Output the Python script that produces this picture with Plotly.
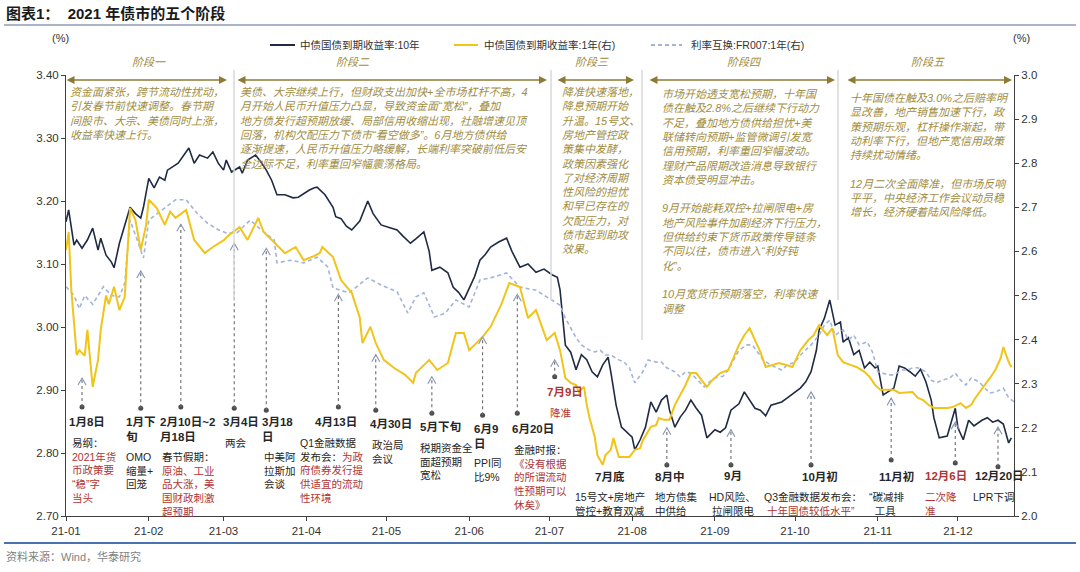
import plotly.graph_objects as go

# ---------------- data ----------------
dates_10y = ["01-01","01-02","01-04","01-05","01-07","01-09","01-11","01-13","01-14","01-16","01-18","01-19","01-21","01-23","01-25","01-27","01-29","01-30",
 "02-01","02-03","02-05","02-07","02-08","02-12","02-16","02-18","02-20","02-23","02-25","02-27",
 "03-01","03-02","03-04","03-07","03-08","03-10","03-13","03-15","03-17","03-19","03-21","03-24","03-27","03-29",
 "04-02","04-04","04-05","04-08","04-11","04-12","04-14","04-16","04-18","04-21","04-24","04-26","04-29",
 "05-02","05-05","05-07","05-10","05-12","05-15","05-17","05-18","05-21","05-24","05-26","05-28","05-30",
 "06-01","06-03","06-05","06-07","06-09","06-12","06-15","06-17","06-20","06-23","06-26","06-29",
 "07-02","07-04","07-05","07-07","07-09","07-11","07-13","07-15","07-17","07-19","07-21","07-23","07-24","07-26","07-28","07-30",
 "08-01","08-02","08-04","08-06","08-08","08-10","08-12","08-14","08-15","08-17","08-19","08-21","08-23","08-25","08-27","08-29",
 "09-01","09-03","09-05","09-07","09-10","09-12","09-14","09-16","09-18","09-20","09-22","09-24","09-26","09-28",
 "10-01","10-03","10-05","10-07","10-09","10-10","10-12","10-14","10-16","10-18","10-19","10-21","10-23","10-25","10-27","10-29","10-31",
 "11-01","11-03","11-05","11-07","11-09","11-11","11-13","11-15","11-17","11-19","11-21","11-22","11-24","11-25","11-27","11-30",
 "12-01","12-03","12-05","12-07","12-09","12-10","12-12","12-14","12-16","12-18","12-20","12-21"]
yield_10y = [3.167,3.186,3.130,3.138,3.125,3.138,3.157,3.122,3.141,3.114,3.103,3.094,3.133,3.160,3.190,3.180,3.173,3.190,
 3.236,3.221,3.238,3.233,3.249,3.260,3.284,3.260,3.273,3.268,3.278,3.260,
 3.249,3.265,3.246,3.254,3.244,3.265,3.273,3.262,3.249,3.233,3.210,3.210,3.205,3.206,
 3.217,3.221,3.222,3.210,3.190,3.175,3.172,3.160,3.154,3.168,3.200,3.180,3.162,
 3.158,3.154,3.145,3.133,3.140,3.151,3.120,3.090,3.095,3.086,3.063,3.055,3.043,
 3.063,3.080,3.106,3.115,3.127,3.135,3.141,3.120,3.095,3.100,3.087,3.092,
 3.083,3.079,3.059,2.971,2.960,2.932,2.956,2.948,2.929,2.921,2.940,2.952,2.929,2.876,2.841,2.833,
 2.825,2.805,2.821,2.841,2.881,2.865,2.884,2.892,2.868,2.841,2.857,2.868,2.884,2.871,2.860,2.824,
 2.837,2.833,2.840,2.868,2.878,2.897,2.884,2.871,2.868,2.859,2.876,2.879,2.881,2.887,
 2.897,2.903,2.913,2.929,2.963,2.995,3.014,3.043,3.003,3.008,2.976,2.983,2.956,2.963,2.935,2.944,2.935,
 2.938,2.892,2.898,2.903,2.938,2.935,2.929,2.922,2.933,2.913,2.884,2.856,2.824,2.825,2.827,2.871,
 2.840,2.821,2.852,2.843,2.849,2.852,2.856,2.849,2.852,2.846,2.816,2.824]

dates_1y = ["01-01","01-02","01-03","01-05","01-06","01-08","01-09","01-11","01-13","01-14","01-16","01-17","01-19","01-21","01-23","01-25","01-27","01-29","01-31",
 "02-01","02-04","02-07","02-09","02-11","02-15","02-18","02-22","02-25",
 "03-01","03-03","03-07","03-10","03-14","03-16","03-20","03-24","03-28","03-31",
 "04-04","04-06","04-07","04-11","04-14","04-18","04-21","04-22","04-25","04-27","04-30",
 "05-04","05-08","05-11","05-12","05-17","05-20","05-24","05-27","05-30",
 "06-01","06-06","06-09","06-13","06-16","06-20","06-23","06-26","06-30",
 "07-03","07-05","07-07","07-09","07-11","07-12","07-14","07-15","07-16","07-18","07-19","07-21","07-22","07-24","07-25","07-27","07-29","07-31",
 "08-02","08-04","08-05","08-08","08-10","08-11","08-13","08-15","08-17","08-19","08-21","08-23","08-25","08-27","08-29","08-31",
 "09-03","09-06","09-08","09-10","09-12","09-14","09-16","09-18","09-20","09-22","09-25","09-28","09-30",
 "10-03","10-06","10-08","10-10","10-13","10-15","10-17","10-19","10-22","10-24","10-27","10-29","10-31",
 "11-02","11-04","11-07","11-09","11-12","11-14","11-16","11-18","11-20","11-22","11-24","11-27","11-29",
 "12-02","12-04","12-06","12-07","12-09","12-11","12-13","12-15","12-17","12-18","12-20","12-21"]
yield_1y = [2.603,2.644,2.512,2.365,2.376,2.363,2.422,2.293,2.354,2.422,2.500,2.480,2.520,2.467,2.497,2.698,2.671,2.603,2.660,
 2.717,2.698,2.660,2.690,2.676,2.694,2.626,2.596,2.610,
 2.625,2.637,2.655,2.626,2.676,2.644,2.620,2.596,2.610,2.580,
 2.590,2.596,2.610,2.587,2.535,2.506,2.450,2.392,2.429,2.392,2.354,
 2.335,2.320,2.302,2.324,2.354,2.331,2.347,2.415,2.415,
 2.376,2.406,2.429,2.480,2.528,2.519,2.449,2.467,2.399,
 2.415,2.376,2.313,2.302,2.297,2.281,2.293,2.252,2.224,2.179,2.138,2.116,2.138,2.150,2.177,2.134,2.134,2.134,
 2.150,2.154,2.172,2.202,2.206,2.222,2.218,2.218,2.252,2.274,2.297,2.324,2.324,2.308,2.293,2.308,
 2.324,2.331,2.361,2.388,2.410,2.426,2.399,2.372,2.338,2.342,2.347,2.342,2.338,
 2.376,2.399,2.410,2.433,2.410,2.426,2.365,2.349,2.342,2.338,2.327,2.315,2.297,
 2.286,2.286,2.286,2.279,2.281,2.281,2.268,2.263,2.252,2.245,2.245,2.245,2.247,
 2.256,2.245,2.252,2.263,2.281,2.297,2.313,2.331,2.358,2.383,2.349,2.338]

dates_fr = ["01-01","01-04","01-06","01-08","01-11","01-13","01-15","01-18","01-21","01-23","01-25","01-28","01-30",
 "02-01","02-06","02-11","02-15","02-19","02-23","02-27",
 "03-02","03-06","03-11","03-15","03-20","03-21","03-26","03-31",
 "04-05","04-09","04-11","04-17","04-24","04-29",
 "05-05","05-09","05-12","05-15","05-19","05-23","05-27",
 "06-01","06-05","06-09","06-15","06-20","06-26",
 "07-05","07-07","07-09","07-11","07-13","07-16","07-18","07-20","07-22","07-24","07-27","07-29","07-31",
 "08-02","08-05","08-07","08-10","08-12","08-14","08-17","08-19","08-21","08-23","08-26","08-28","08-30",
 "09-01","09-04","09-06","09-08","09-10","09-13","09-15","09-17","09-19","09-22","09-24","09-26","09-28",
 "10-01","10-03","10-05","10-07","10-10","10-12","10-14","10-16","10-19","10-21","10-23","10-25","10-28","10-30",
 "11-01","11-03","11-05","11-07","11-10","11-12","11-14","11-16","11-19","11-21","11-23","11-25","11-28","11-30",
 "12-02","12-04","12-06","12-09","12-11","12-13","12-15","12-18","12-20","12-22"]
swap_fr007 = [2.520,2.500,2.470,2.500,2.480,2.500,2.520,2.500,2.497,2.528,2.671,2.620,2.585,
 2.671,2.694,2.717,2.717,2.687,2.664,2.649,
 2.642,2.642,2.671,2.649,2.626,2.574,2.580,2.574,
 2.587,2.565,2.517,2.506,2.540,2.524,
 2.508,2.460,2.497,2.506,2.451,2.460,2.490,
 2.474,2.535,2.540,2.551,2.519,2.512,
 2.478,2.449,2.426,2.404,2.388,2.376,2.372,2.376,2.365,2.365,2.354,2.349,2.336,
 2.302,2.327,2.354,2.349,2.349,2.336,2.327,2.315,2.327,2.324,2.304,2.293,2.304,
 2.313,2.317,2.331,2.354,2.376,2.388,2.388,2.372,2.354,2.342,2.336,2.331,2.342,
 2.349,2.365,2.376,2.388,2.410,2.433,2.444,2.410,2.422,2.399,2.410,2.388,2.395,2.372,
 2.327,2.324,2.320,2.320,2.331,2.331,2.336,2.336,2.327,2.308,2.302,2.308,2.313,2.324,
 2.308,2.297,2.313,2.304,2.290,2.279,2.281,2.290,2.268,2.259]

# event markers (date, arrow tip, dot) on the left axis
event_dates = ["01-07","01-29","02-13","03-05","03-17","04-13","04-27","05-18","06-06","06-19","07-03","08-14","09-07","10-07","11-06","11-30","12-16"]
event_tip = [2.919,3.089,3.163,3.133,3.125,3.052,2.956,2.921,2.984,3.052,2.948,2.840,2.837,2.897,2.887,2.849,2.841]
event_dot = [2.873,2.871,2.873,2.871,2.868,2.873,2.868,2.863,2.860,2.863,2.921,2.781,2.781,2.781,2.789,2.784,2.778]

series_names = ["中债国债到期收益率:10年", "中债国债到期收益率:1年(右)", "利率互换:FR007:1年(右)"]
stage_names = ["阶段一", "阶段二", "阶段三", "阶段四", "阶段五"]

def full(ds):
    return ["2021-" + d for d in ds]

# ---------------- style ----------------
FONT = "Liberation Sans, Noto Sans CJK SC, sans-serif"
NAVY = "#1F2A44"
YEL = "#F0C419"
FRC = "#A3B4DA"
RED = "#B03434"
DARK = "#262626"
GOLD = "#A08D3F"
ARROWC = "#8E7A35"
FRDASH = "4px,3px"

L, R, T, B = 66, 1014, 75, 516
def PX(x): return (x - L) / (R - L)
def PY(y): return (B - y) / (B - T)

fig = go.Figure()
fig.add_trace(go.Scatter(x=full(dates_fr), y=swap_fr007, yaxis="y2", mode="lines",
                         line=dict(color=FRC, width=1.6, dash=FRDASH), name=series_names[2], showlegend=False))
fig.add_trace(go.Scatter(x=full(dates_1y), y=yield_1y, yaxis="y2", mode="lines",
                         line=dict(color=YEL, width=2), name=series_names[1], showlegend=False))
fig.add_trace(go.Scatter(x=full(dates_10y), y=yield_10y, yaxis="y", mode="lines",
                         line=dict(color=NAVY, width=1.6), name=series_names[0], showlegend=False))
fig.add_trace(go.Scatter(x=full(event_dates), y=event_dot, mode="markers", cliponaxis=False,
                         marker=dict(size=5, color="#4D4D4D"), showlegend=False, hoverinfo="skip"))

shapes = []
annotations = []

# event dotted arrows
for d, tip, dot in zip(event_dates, event_tip, event_dot):
    shapes.append(dict(type="line", xref="x", yref="y", x0="2021-" + d, x1="2021-" + d, y0=dot, y1=tip,
                       line=dict(color="#6B6B6B", width=1.1, dash="dot")))
    shapes.append(dict(type="path", xref="x", yref="y", xsizemode="pixel", ysizemode="pixel",
                       xanchor="2021-" + d, yanchor=tip, path="M-4,-7 L0,0 L4,-7",
                       line=dict(color="#8494B4", width=1.1)))

# stage separators
for x, y2 in [(234, 300), (551, 300), (642, 340), (838, 300)]:
    shapes.append(dict(type="line", xref="paper", yref="paper", x0=PX(x), x1=PX(x), y0=PY(70), y1=PY(y2),
                       line=dict(color="#D9D9D9", width=1.5)))

# stage headers + double arrows
stages = [(65, 227, 149), (236, 547, 353), (556, 634, 592), (648, 835, 744), (846, 1012, 928)]
for (x0, x1, xc), nm in zip(stages, stage_names):
    annotations.append(dict(xref="paper", yref="paper", x=PX(x1), y=PY(80), axref="pixel", ayref="pixel",
                            ax=-(x1 - x0), ay=0, text="", showarrow=True, arrowside="end+start",
                            arrowhead=2, startarrowhead=2, arrowsize=1, startarrowsize=1, arrowwidth=1.6,
                            arrowcolor=ARROWC, standoff=0, startstandoff=0))
    annotations.append(dict(xref="paper", yref="paper", x=PX(xc), y=PY(62), text="<i>" + nm + "</i>",
                            showarrow=False, xanchor="center", yanchor="middle",
                            font=dict(family=FONT, size=11, color=GOLD)))

def block(x, yc, lines, size, color, bold=False, italic=False):
    if bold:
        lines = ["<b>" + l + "</b>" for l in lines]
    if italic:
        lines = ["<i>" + l + "</i>" for l in lines]
    annotations.append(dict(xref="paper", yref="paper", x=PX(x), y=PY(yc - size * 0.65 - 1.5),
                            text="<br>".join(lines), showarrow=False, xanchor="left", yanchor="top",
                            align="left", font=dict(family=FONT, size=size, color=color)))

def red(s): return "<span style='color:%s'>%s</span>" % (RED, s)

# stage texts
block(68, 93, ["资金面紧张，跨节流动性扰动，", "引发春节前快速调整。春节期", "间股市、大宗、美债同时上涨，", "收益率快速上行。"], 11, GOLD, italic=True)
block(238, 93, ["美债、大宗继续上行，但财政支出加快+全市场杠杆不高，4",
                "月开始人民币升值压力凸显，导致资金面“宽松”，叠加",
                "地方债发行超预期放缓、局部信用收缩出现，社融增速见顶",
                "回落，机构欠配压力下债市“看空做多”。6月地方债供给",
                "逐渐提速，人民币升值压力略缓解，长端利率突破前低后安",
                "全边际不足，利率重回窄幅震荡格局。"], 11, GOLD, italic=True)
block(560, 93, ["降准快速落地，", "降息预期开始", "升温。15号文、", "房地产管控政", "策集中发酵，", "政策因素强化",
                "了对经济周期", "性风险的担忧", "和早已存在的", "欠配压力，对", "债市起到助攻", "效果。"], 11, GOLD, italic=True)
block(660, 95, ["市场开始透支宽松预期，十年国", "债在触及2.8%之后继续下行动力", "不足，叠加地方债供给担忧+美",
                "联储转向预期+监管微调引发宽", "信用预期，利率重回窄幅波动。", "理财产品限期改造消息导致银行",
                "资本债受明显冲击。", " ", "9月开始能耗双控+拉闸限电+房", "地产风险事件加剧经济下行压力，",
                "但供给约束下货币政策传导链条", "不同以往，债市进入“利好钝", "化”。", " ",
                "10月宽货币预期落空，利率快速", "调整"], 11, GOLD, italic=True)
block(848, 99, ["十年国债在触及3.0%之后赔率明", "显改善，地产销售加速下行，政", "策预期乐观，杠杆操作渐起，带",
                "动利率下行，但地产宽信用政策", "持续扰动情绪。", " ", "12月二次全面降准，但市场反响",
                "平平，中央经济工作会议动员稳", "增长，经济硬着陆风险降低。"], 11, GOLD, italic=True)

# event labels
DS = 11.5
BS = 10.5
block(67, 423, ["1月8日"], DS, DARK, bold=True)
block(70, 443, ["易纲：", red("2021年货"), red("币政策要"), red("“稳”字"), red("当头")], BS, DARK)
block(124, 423, ["1月下", "旬"], DS, DARK, bold=True)
block(124, 457, ["OMO", "缩量+", "回笼"], BS, DARK)
block(158, 423, ["2月10日~2", "月18日"], DS, DARK, bold=True)
block(160, 457, ["春节假期：", red("原油、工业"), red("品大涨，美"), red("国财政刺激"), red("超预期")], BS, DARK)
block(221, 423, ["3月4日"], DS, DARK, bold=True)
block(223, 443, ["两会"], BS, DARK)
block(260, 423, ["3月18", "日"], DS, DARK, bold=True)
block(262, 457, ["中美阿", "拉斯加", "会谈"], BS, DARK)
block(313, 423, ["4月13日"], DS, DARK, bold=True)
block(298, 443, ["Q1金融数据", "发布会：" + red("为政"), red("府债券发行提"), red("供适宜的流动"), red("性环境")], BS, DARK)
block(368, 425, ["4月30日"], DS, DARK, bold=True)
block(370, 445, ["政治局", "会议"], BS, DARK)
block(418, 427, ["5月下旬"], DS, DARK, bold=True)
block(418, 448, ["税期资金全", "面超预期", "宽松"], BS, DARK)
block(472, 430, ["6月9", "日"], DS, DARK, bold=True)
block(472, 463, ["PPI同", "比9%"], BS, DARK)
block(510, 430, ["6月20日"], DS, DARK, bold=True)
block(512, 450, ["金融时报：", red("《没有根据"), red("的所谓流动"), red("性预期可以"), red("休矣》")], BS, DARK)
block(545, 393, ["7月9日"], DS, RED, bold=True)
block(548, 413, ["降准"], BS, RED)
block(593, 477, ["7月底"], DS, DARK, bold=True)
block(573, 497, ["15号文+房地产", "管控+教育双减"], BS, DARK)
block(653, 477, ["8月中"], DS, DARK, bold=True)
block(653, 497, ["地方债集", "中供给"], BS, DARK)
block(722, 477, ["9月"], DS, DARK, bold=True)
block(707, 497, ["HD风险、", " 拉闸限电"], BS, DARK)
block(800, 477, ["10月初"], DS, DARK, bold=True)
block(762, 497, ["Q3金融数据发布会：", red(" 十年国债较低水平”")], BS, DARK)
block(877, 477, ["11月初"], DS, DARK, bold=True)
block(867, 497, ["“碳减排", "  工具"], BS, DARK)
block(923, 477, ["12月6日"], DS, RED, bold=True)
block(923, 497, ["二次降", "准"], BS, RED)
block(973, 477, ["12月20日"], DS, DARK, bold=True)
block(971, 497, ["LPR下调"], BS, DARK)

# legend (manual)
leg = [(270, 295, NAVY, "solid", 298), (454, 478, YEL, "solid", 482), (651, 682, FRC, FRDASH, 689)]
for (a, b, c, dsh, tx), nm in zip(leg, series_names):
    shapes.append(dict(type="line", xref="paper", yref="paper", x0=PX(a), x1=PX(b), y0=PY(45), y1=PY(45),
                       line=dict(color=c, width=2, dash=dsh)))
    annotations.append(dict(xref="paper", yref="paper", x=PX(tx), y=PY(45), text=nm, showarrow=False,
                            xanchor="left", yanchor="middle", font=dict(family=FONT, size=10.5, color="#333333")))

# units, title, source
annotations.append(dict(xref="paper", yref="paper", x=PX(60), y=PY(38), text="(%)", showarrow=False,
                        xanchor="center", yanchor="middle", font=dict(family=FONT, size=11, color="#333333")))
annotations.append(dict(xref="paper", yref="paper", x=PX(1022), y=PY(38), text="(%)", showarrow=False,
                        xanchor="center", yanchor="middle", font=dict(family=FONT, size=11, color="#333333")))
annotations.append(dict(xref="paper", yref="paper", x=PX(4), y=PY(13), text="<b>图表1：  2021 年债市的五个阶段</b>",
                        showarrow=False, xanchor="left", yanchor="middle", font=dict(family=FONT, size=15, color="#1A1A1A")))
annotations.append(dict(xref="paper", yref="paper", x=PX(4), y=PY(556), text="资料来源：Wind，华泰研究",
                        showarrow=False, xanchor="left", yanchor="middle", font=dict(family=FONT, size=11, color="#7F7F7F")))
shapes.append(dict(type="line", xref="paper", yref="paper", x0=PX(4), x1=PX(1076), y0=PY(25), y1=PY(25),
                   line=dict(color="#8E9DB6", width=1.5)))
shapes.append(dict(type="line", xref="paper", yref="paper", x0=PX(4), x1=PX(1076), y0=PY(543), y1=PY(543),
                   line=dict(color="#4A72B0", width=2)))

axis_font = dict(family="Liberation Sans, Arial, sans-serif", size=11.5, color="#333333")
fig.update_layout(
    width=1080, height=572, margin=dict(l=L, r=1080 - R, t=T, b=572 - B),
    paper_bgcolor="white", plot_bgcolor="white",
    xaxis=dict(type="date", range=["2021-01-01", "2021-12-22"], tick0="2021-01-01", dtick="M1",
               tickformat="%y-%m", ticks="outside", ticklen=4, tickcolor="#404040",
               showline=True, linecolor="#404040", linewidth=1, showgrid=False, zeroline=False, tickfont=axis_font),
    yaxis=dict(range=[2.70, 3.40], dtick=0.1, tick0=2.7, tickformat=".2f", ticks="outside", ticklen=4,
               tickcolor="#404040", showline=True, linecolor="#404040", linewidth=1, showgrid=False,
               zeroline=False, tickfont=axis_font),
    yaxis2=dict(range=[2.0, 3.0], dtick=0.1, tick0=2.0, tickformat=".1f", overlaying="y", side="right",
                ticks="outside", ticklen=4, tickcolor="#404040", showline=True, linecolor="#404040", linewidth=1,
                showgrid=False, zeroline=False, tickfont=axis_font),
    shapes=shapes, annotations=annotations, showlegend=False,
)

fig.write_html("out.html", config={"displayModeBar": False},
               post_script="document.body.style.margin='0px';document.body.style.overflow='hidden';")
